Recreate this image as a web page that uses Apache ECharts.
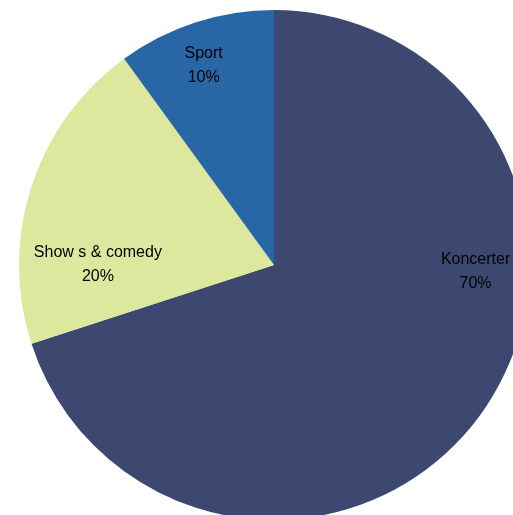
<!DOCTYPE html>
<html>
<head>
<meta charset="utf-8">
<script src="https://cdn.jsdelivr.net/npm/echarts@6/dist/echarts.min.js"></script>
<style>
html,body{margin:0;padding:0;background:#fff;}
#chart{width:513px;height:515px;}
</style>
</head>
<body>
<div id="chart"></div>
<script>
// categories and shares
const categories = ["Koncerter", "Show s & comedy", "Sport"];
const values = [70, 20, 10];
const colors = ["#3D4870", "#DDE79D", "#2966A6"];
const labelOffsets = [[96, -70], [-52, 40], [-30, -75]];

const chart = echarts.init(document.getElementById("chart"));

const option = {
  backgroundColor: "#fff",
  animation: false,
  series: [
    {
      type: "pie",
      center: [274, 265],
      radius: [0, 255],
      startAngle: 90,
      clockwise: true,
      silent: true,
      data: categories.map((c, i) => ({
        name: c,
        value: values[i],
        itemStyle: { color: colors[i] },
        label: { offset: labelOffsets[i] }
      })),
      label: {
        show: true,
        position: "inside",
        formatter: p => p.name + "\n" + p.value + "%",
        color: "#000",
        fontFamily: "Liberation Sans, Arial, sans-serif",
        fontSize: 16,
        lineHeight: 24,
        align: "center"
      },
      labelLine: { show: false }
    }
  ]
};

chart.setOption(option);
</script>
</body>
</html>
